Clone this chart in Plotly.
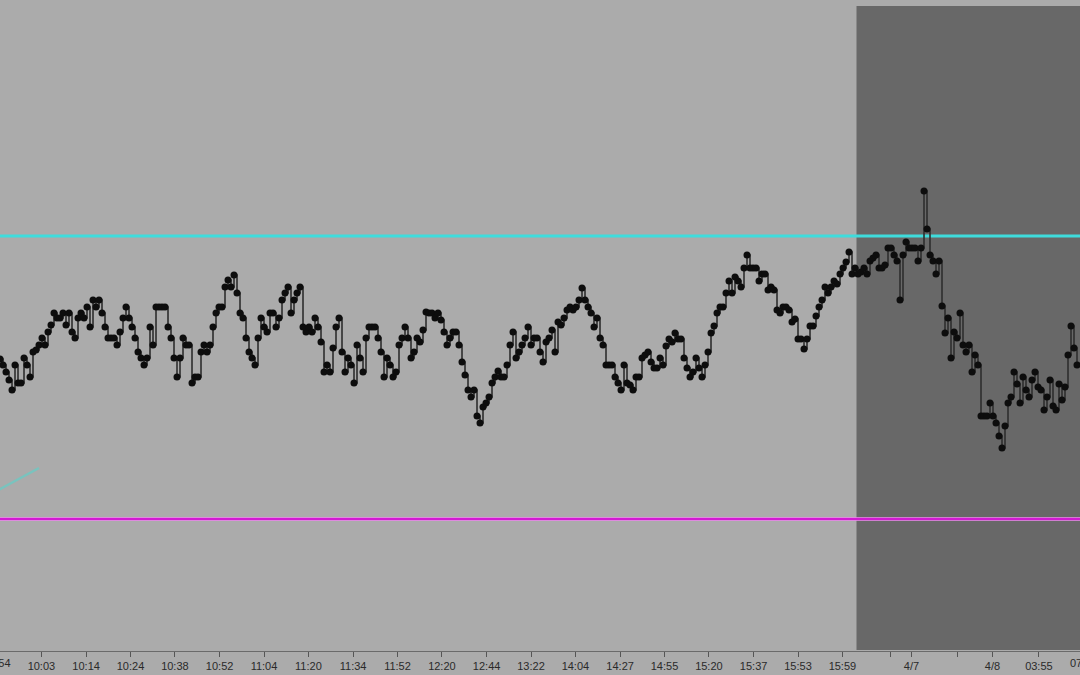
import plotly.graph_objects as go

# Close prices, one per bar (bar index = position on the time axis)
closes = [
    441, 435, 428, 420, 410, 435, 417, 417, 442, 435, 423, 448, 450, 455, 462, 455, 468, 475, 487, 482,
    482, 487, 475, 487, 468, 462, 482, 487, 482, 493, 473, 500, 493, 500, 487, 473, 462, 462, 462, 455,
    468, 482, 493, 482, 473, 462, 448, 442, 435, 442, 473, 455, 493, 493, 493, 493, 473, 462, 442, 423,
    442, 462, 455, 455, 417, 423, 423, 448, 455, 448, 455, 473, 487, 493, 493, 513, 520, 513, 525, 507,
    487, 482, 462, 448, 442, 435, 462, 482, 473, 468, 487, 487, 473, 482, 500, 507, 513, 487, 500, 507,
    513, 473, 468, 473, 468, 482, 473, 458, 428, 435, 428, 452, 473, 482, 448, 428, 442, 435, 417, 455,
    442, 428, 462, 473, 473, 473, 462, 448, 423, 442, 435, 423, 428, 455, 462, 473, 462, 442, 448, 462,
    458, 470, 488, 487, 487, 482, 487, 480, 468, 455, 462, 468, 468, 455, 438, 425, 410, 403, 410, 384,
    377, 393, 397, 403, 417, 423, 429, 423, 423, 435, 455, 468, 442, 448, 455, 462, 473, 455, 462, 462,
    448, 438, 458, 462, 470, 448, 478, 475, 482, 490, 493, 490, 493, 500, 512, 500, 493, 487, 473, 482,
    462, 455, 435, 435, 435, 423, 417, 410, 435, 417, 415, 410, 423, 423, 442, 445, 448, 438, 432, 432,
    442, 435, 454, 461, 458, 467, 461, 461, 442, 432, 423, 428, 442, 432, 423, 435, 448, 467, 474, 487,
    493, 493, 507, 519, 507, 523, 519, 513, 532, 545, 532, 532, 532, 519, 526, 526, 510, 513, 510, 490,
    487, 493, 493, 490, 478, 481, 461, 461, 451, 461, 474, 474, 484, 493, 500, 513, 507, 513, 519, 516,
    526, 532, 538, 548, 526, 532, 526, 528, 532, 526, 539, 542, 545, 532, 532, 535, 552, 552, 545, 539,
    500, 545, 558, 552, 552, 552, 539, 552, 609, 571, 545, 539, 526, 539, 494, 467, 482, 442, 468, 462,
    487, 455, 448, 455, 428, 445, 435, 384, 384, 384, 397, 384, 377, 364, 352, 374, 397, 403, 428, 416,
    397, 423, 410, 403, 420, 428, 413, 410, 390, 403, 420, 394, 390, 416, 400, 413, 445, 474, 452, 435,
]
bars = list(range(len(closes)))

# Horizontal levels
resistance_level = 564
support_level = 281

# Faint trend line drawn at the left (bar index, price)
trend_x = [-0.5, 13]
trend_y = [310, 332]

# Start of the overnight session (shaded)
session_start = 286
session_top = 794
session_bottom = 150

# Time axis labels
tick_vals = [13.8, 28.7, 43.5, 58.3, 73.2, 88.0, 102.8, 117.7, 132.5, 147.3, 162.2, 177.0,
             191.8, 206.7, 221.5, 236.3, 251.2, 266.0, 280.8, 296.7, 303.8, 319.3, 330.8, 346.3]
tick_text = ["10:03", "10:14", "10:24", "10:38", "10:52", "11:04", "11:20", "11:34", "11:52", "12:20",
             "12:44", "13:22", "14:04", "14:27", "14:55", "15:20", "15:37", "15:53", "15:59", "",
             "4/7", "", "4/8", "03:55"]
# labels partly cut off by the chart edges (bar position, text)
edge_labels = [(-1.0, "09:54"), (361.3, "07:10")]

x_range = [0, 360]

fig = go.Figure()

fig.add_shape(type="rect", xref="x", yref="y", x0=session_start - 0.5, x1=370,
              y0=session_bottom, y1=session_top, fillcolor="#686868", line=dict(width=0), layer="below")

fig.add_trace(go.Scatter(x=trend_x, y=trend_y, mode="lines",
                         line=dict(color="rgba(80,215,205,0.55)", width=2.5), hoverinfo="skip"))

fig.add_trace(go.Scatter(x=[-5, 370], y=[support_level] * 2, mode="lines",
                         line=dict(color="rgba(235,130,235,0.8)", width=4), hoverinfo="skip"))
fig.add_trace(go.Scatter(x=[-5, 370], y=[support_level] * 2, mode="lines",
                         line=dict(color="#d21ad2", width=2), hoverinfo="skip"))
fig.add_trace(go.Scatter(x=[-5, 370], y=[resistance_level] * 2, mode="lines",
                         line=dict(color="#3edcdc", width=3), hoverinfo="skip"))

fig.add_trace(go.Scatter(x=bars, y=closes, mode="lines+markers",
                         line=dict(color="#2e2e2e", width=1.6, shape="hv"),
                         marker=dict(color="#0d0d0d", size=7, line=dict(width=0))))

span = x_range[1] - x_range[0]
for xv, txt in edge_labels:
    fig.add_annotation(x=(xv - x_range[0]) / span, y=0, xref="paper", yref="paper", text=txt,
                       showarrow=False, xanchor="center", yanchor="top", yshift=-4,
                       font=dict(family="Liberation Sans, Arial", size=11, color="#2a2a2a"))

fig.update_layout(
    width=1080, height=675,
    margin=dict(l=0, r=0, t=0, b=24),
    paper_bgcolor="#ababab", plot_bgcolor="#ababab",
    showlegend=False,
    font=dict(family="Liberation Sans, Arial", size=11, color="#2a2a2a"),
)
fig.update_xaxes(range=x_range, showgrid=False, zeroline=False, showline=True, linecolor="#6a6a6a",
                 linewidth=1, ticks="outside", ticklen=5, tickcolor="#555555", tickwidth=1,
                 tickmode="array", tickvals=tick_vals, ticktext=tick_text)
fig.update_yaxes(range=[149, 800], showgrid=False, zeroline=False, showticklabels=False, visible=False)

fig.write_html("out.html", config={"displayModeBar": False},
               post_script="document.body.style.margin='0';document.body.style.overflow='hidden';")
